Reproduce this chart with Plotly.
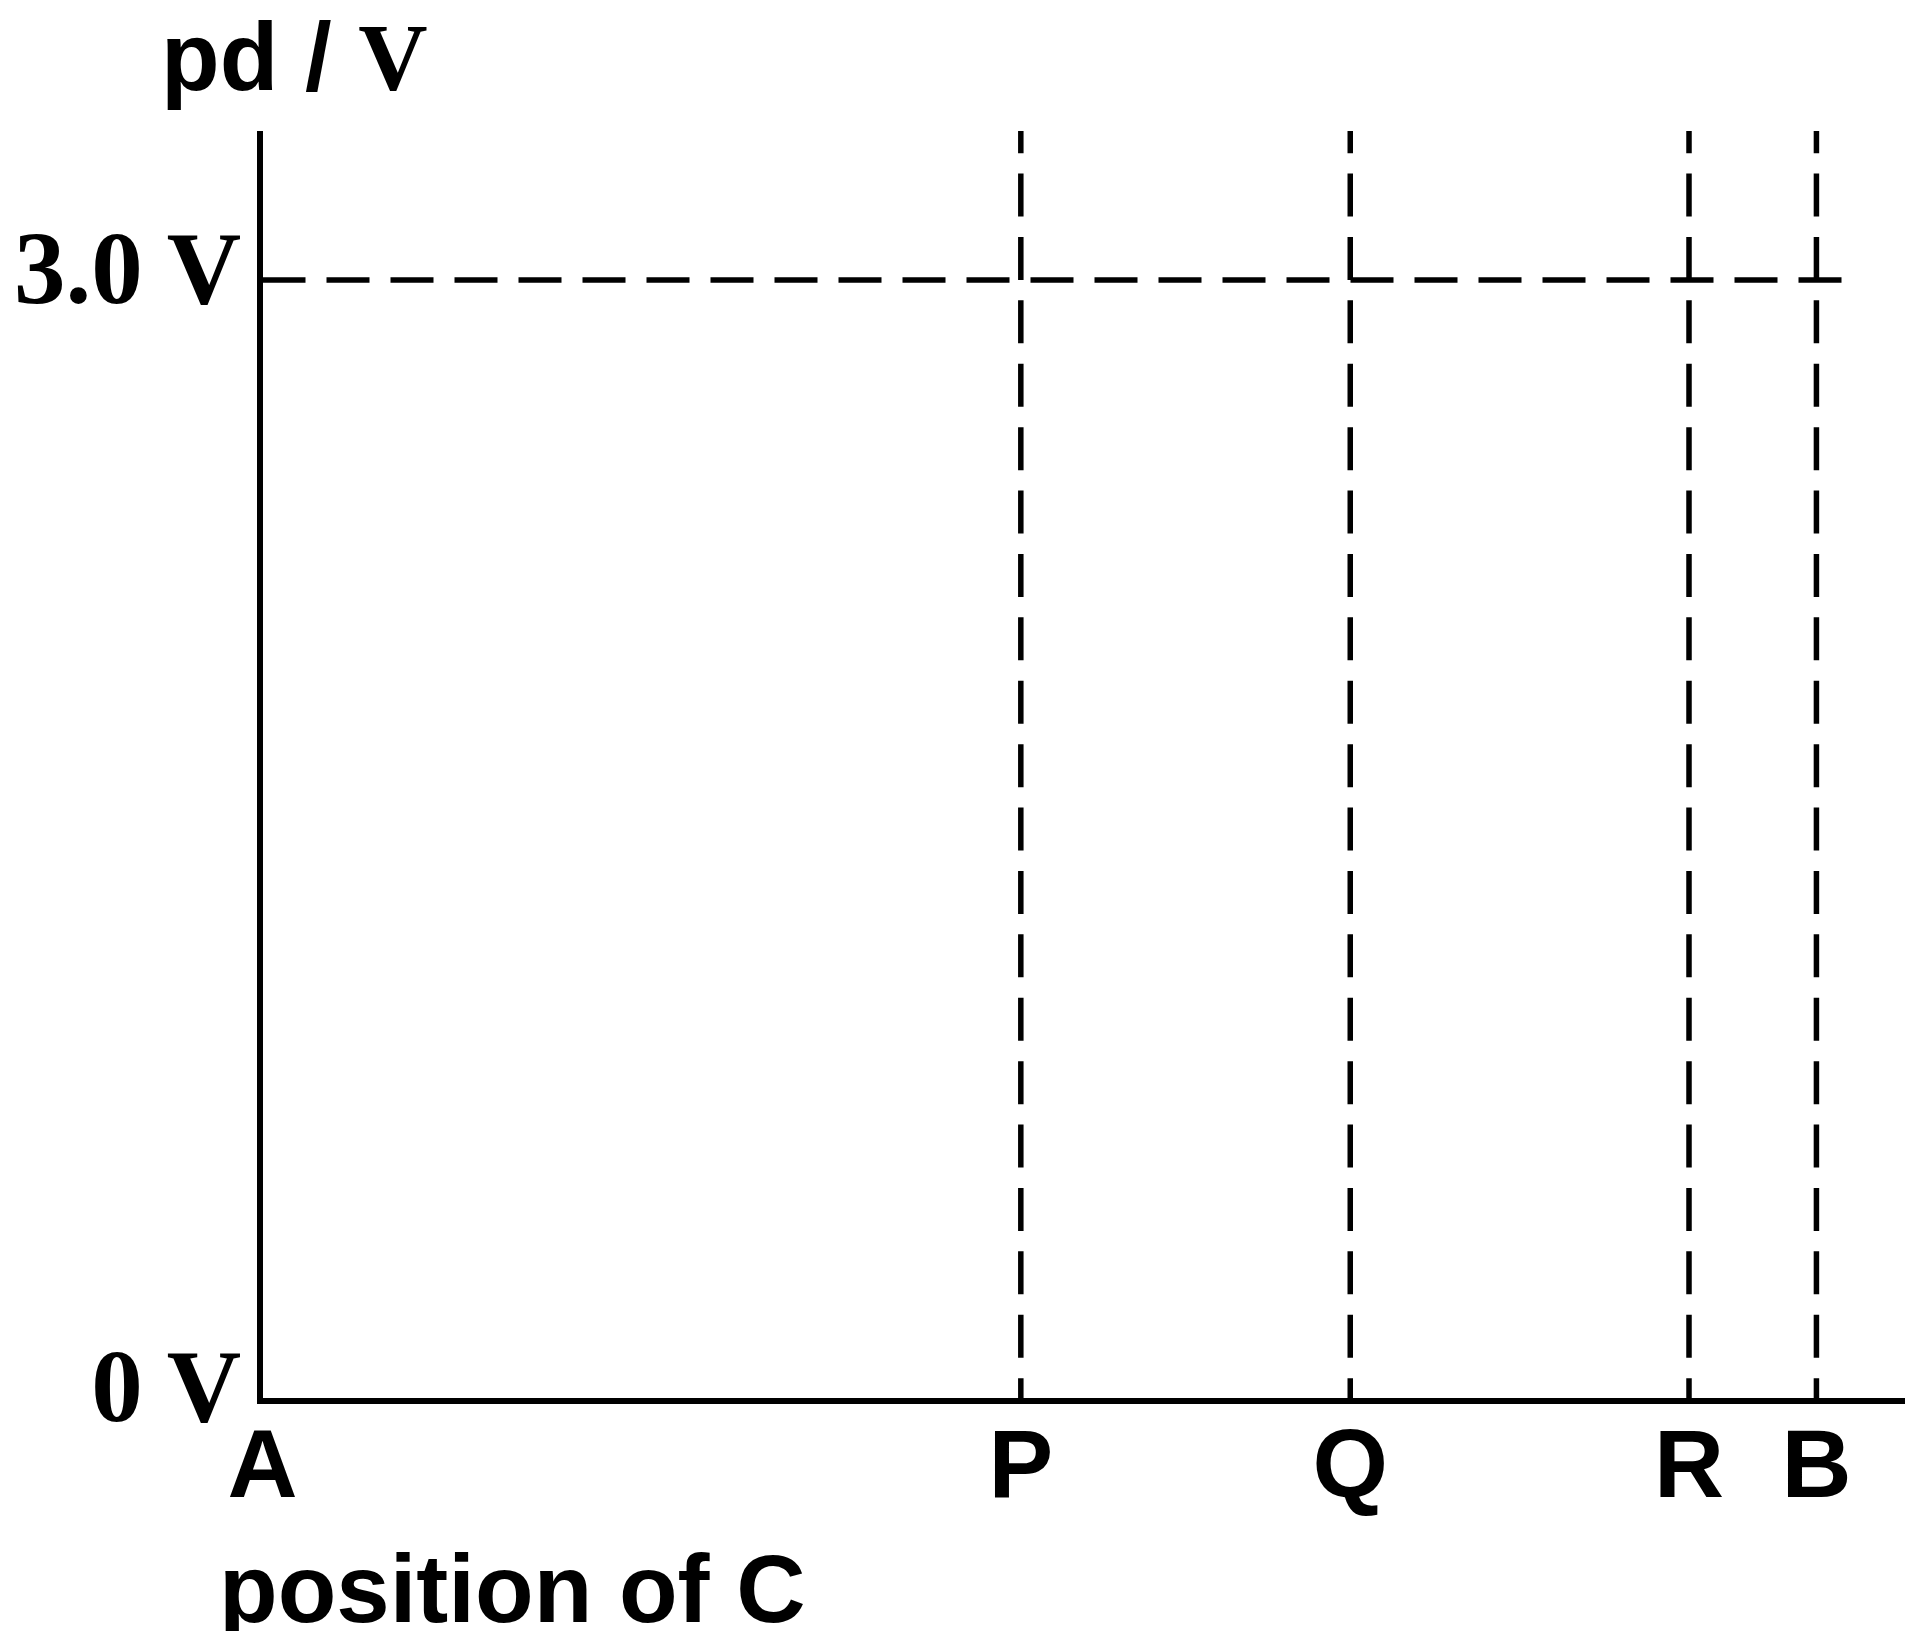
import plotly.graph_objects as go

# ---- data ----
positions = ["A", "P", "Q", "R", "B"]          # points along the wire
position_values = [0, 48.8, 70, 91.8, 100]      # distance along wire (arbitrary units)
marked_lines = ["P", "Q", "R", "B"]              # vertical dashed guide lines
pd_levels = [0, 3.0]                             # y tick values
pd_labels = ["0 V", "3.0 V"]
emf_level = 3.0                                  # horizontal dashed guide
emf_line_end = 102                               # horizontal guide runs just past B
x_max = 105.7
y_max = 3.4
y_guide_top = 3.456                              # guides start just above the frame

# page body has an 8px margin, so the figure is laid out in page px minus 8
OFF = 8
W, H = 1921 - 2 * OFF, 1639 - 2 * OFF
left_px, right_px = 262.5 - OFF, 1905 - OFF
top_px, bottom_px = 131 - OFF, 1398 - OFF

pos_map = dict(zip(positions, position_values))

fig = go.Figure()

# horizontal 3.0 V guide
fig.add_trace(go.Scatter(
    x=[0, emf_line_end], y=[emf_level, emf_level], mode="lines",
    line=dict(color="black", width=5.5, dash="43px,21px"),
    hoverinfo="skip", showlegend=False))

# vertical guides
for name in marked_lines:
    xv = pos_map[name]
    fig.add_trace(go.Scatter(
        x=[xv, xv], y=[y_guide_top, 0], mode="lines",
        line=dict(color="black", width=5.5, dash="43px,20.4px"),
        hoverinfo="skip", showlegend=False))

fig.update_layout(
    template="none",
    width=W, height=H, autosize=False,
    margin=dict(l=0, r=0, t=0, b=0, pad=0),
    paper_bgcolor="white", plot_bgcolor="white",
    showlegend=False,
    xaxis=dict(
        domain=[left_px / W, right_px / W], range=[0, x_max], automargin=False,
        showgrid=False, zeroline=False, showline=True, linecolor="black", linewidth=5.5,
        ticks="", tickmode="array", tickvals=position_values, ticktext=positions,
        tickfont=dict(family="Liberation Sans, Arial", size=97, color="black", weight="bold"),
        ticklabelstandoff=-23, fixedrange=True),
    yaxis=dict(
        domain=[1 - bottom_px / H, 1 - top_px / H], range=[0, y_max], automargin=False,
        showgrid=False, zeroline=False, showline=True, linecolor="black", linewidth=5.5,
        ticks="", tickmode="array", tickvals=pd_levels, ticktext=pd_labels,
        tickfont=dict(family="Liberation Serif, Times New Roman", size=103, color="black", weight="bold"),
        ticklabelstandoff=-5, ticklabelshift=-13, fixedrange=True),
)

fig.add_annotation(
    xref="paper", yref="paper", x=(159 - OFF) / W, y=1 - (57 - OFF) / H,
    xanchor="left", yanchor="middle", showarrow=False,
    text='pd / <span style="font-family:\'Liberation Serif\', \'Times New Roman\'">V</span>',
    font=dict(family="Liberation Sans, Arial", size=96, color="black", weight="bold"))

fig.add_annotation(
    xref="paper", yref="paper", x=(217 - OFF) / W, y=1 - (1588 - OFF) / H,
    xanchor="left", yanchor="middle", showarrow=False,
    text="position of C",
    font=dict(family="Liberation Sans, Arial", size=96, color="black", weight="bold"))

fig.write_html("out.html")
